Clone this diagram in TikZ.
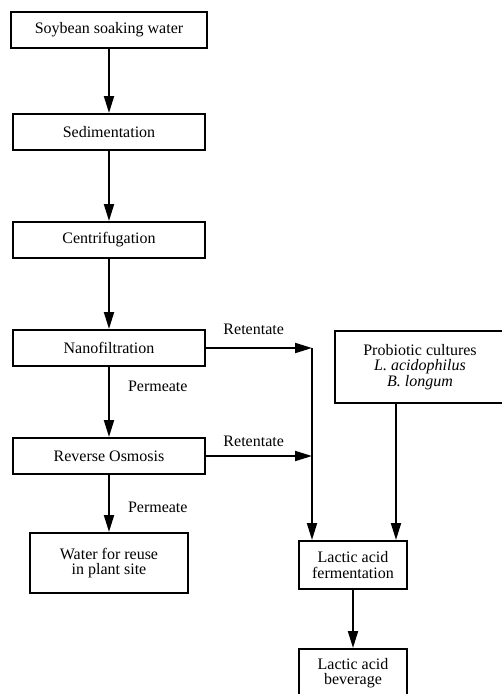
\documentclass[tikz,border=0pt]{standalone}
\usepackage{fontspec}
\setmainfont{Liberation Serif}
\usetikzlibrary{arrows.meta}

\tikzstyle{process}=[rectangle,draw,line width=2pt,inner sep=0pt,align=center,font=\fontsize{16}{15.5}\selectfont]
\tikzstyle{tag}=[inner sep=0pt,font=\fontsize{16}{15.5}\selectfont]

\begin{document}
\begin{tikzpicture}[x=1pt, y=-1pt, ->, >={Triangle[length=17pt,width=10pt]}, line width=2pt]
		\useasboundingbox (0,0) rectangle (502,694);
		\node [process, minimum width=196pt, minimum height=36pt] (soak)  at (109, 30)  {Soybean soaking water};
		\node [process, minimum width=192pt, minimum height=36pt] (sed)   at (109, 132) {Sedimentation};
		\node [process, minimum width=192pt, minimum height=36pt] (cent)  at (109, 240) {Centrifugation};
		\node [process, minimum width=192pt, minimum height=36pt] (nano)  at (109, 348) {Nanofiltration};
		\node [process, minimum width=192pt, minimum height=36pt] (ro)    at (109, 456) {Reverse Osmosis};
		\node [process, minimum width=158pt, minimum height=60pt] (water) at (109, 563) {Water for reuse\\in plant site};
		\node [process, minimum width=170pt, minimum height=72pt] (prob)  at (420, 367) {Probiotic cultures\\\textit{L. acidophilus}\\\textit{B. longum}};
		\node [process, minimum width=108pt, minimum height=48pt] (ferm)  at (353, 565) {Lactic acid\\fermentation};
		\node [process, minimum width=108pt, minimum height=48pt] (bev)   at (353, 673) {Lactic acid\\beverage};
		\coordinate (nanoret) at (312, 348);
		\coordinate (roret)   at (312, 456);

		\draw (soak)  edge (sed);
		\draw (sed)   edge (cent);
		\draw (cent)  edge (nano);
		\draw (nano)  edge node [tag, anchor=west, pos=0.28, xshift=18pt] {Permeate} (ro);
		\draw (ro)    edge node [tag, anchor=west, pos=0.57, xshift=18pt] {Permeate} (water);
		\draw (nano)  edge node [tag, pos=0.45, yshift=18.5pt] {Retentate} (nanoret);
		\draw (ro)    edge node [tag, pos=0.45, yshift=15pt] {Retentate} (roret);
		\draw (nanoret) -- (nanoret |- ferm.north);
		\draw ([xshift=-24pt]prob.south) -- ([xshift=-24pt]prob.south |- ferm.north);
		\draw (ferm)  edge (bev);
	\end{tikzpicture}
\end{document}
